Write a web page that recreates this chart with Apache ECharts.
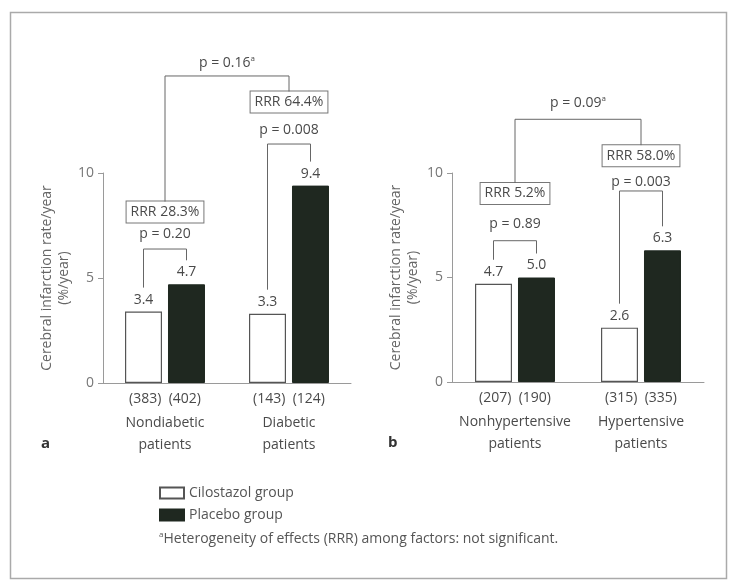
<!DOCTYPE html>
<html>
<head>
<meta charset="utf-8">
<script src="https://cdn.jsdelivr.net/npm/echarts@6/dist/echarts.min.js"></script>
<style>
  html, body { margin: 0; padding: 0; background: #fff; }
  #chart { width: 732px; height: 581px; }
</style>
</head>
<body>
<div id="chart"></div>
<script>
// ---- Data ----
const categoriesA = ['Nondiabetic', 'Diabetic'];
const categoriesB = ['Nonhypertensive', 'Hypertensive'];
const cilostazolA = [3.4, 3.3];
const placeboA = [4.7, 9.4];
const cilostazolB = [4.7, 2.6];
const placeboB = [5.0, 6.3];
const nCilostazolA = [383, 143];
const nPlaceboA = [402, 124];
const nCilostazolB = [207, 315];
const nPlaceboB = [190, 335];
const rrrA = ['RRR 28.3%', 'RRR 64.4%'];
const rrrB = ['RRR 5.2%', 'RRR 58.0%'];
const pWithinA = ['p = 0.20', 'p = 0.008'];
const pWithinB = ['p = 0.89', 'p = 0.003'];
const pBetweenA = 'p = 0.16';
const pBetweenB = 'p = 0.09';
const yTicks = [0, 5, 10];
const seriesNames = ['Cilostazol group', 'Placebo group'];
const footnote = 'Heterogeneity of effects (RRR) among factors: not significant.';

// ---- Styling / layout ----
const FONT = '"Open Sans", "Noto Sans", sans-serif';
const TEXT = '#4a4a4a';
const AXIS = '#9a9a9a';
const DARK = '#1f2820';
const BAR_W = 37;
const BAR_GAP_PX = 6;

// Annotation heights, in axis units
const levelsA = { bracket: [6.38, 11.38], p: [7.10, 12.05], box: [8.14, 13.38], top: 14.62, topText: 15.24 };
const levelsB = { bracket: [6.76, 9.14], p: [7.57, 9.57], box: [9.02, 10.83], top: 12.57, topText: 13.33 };

const chart = echarts.init(document.getElementById('chart'), null, { renderer: 'canvas' });

function categoryLabels(cats, nC, nP) {
  return cats.map((c, i) => `{n|(${nC[i]})  (${nP[i]})}\n{c|${c}}\n{c|patients}`);
}

function yAxis(gridIndex) {
  return {
    type: 'value', gridIndex, min: yTicks[0], max: yTicks[yTicks.length - 1], interval: 5,
    name: 'Cerebral infarction rate/year\n(%/year)',
    nameLocation: 'middle', nameGap: 30,
    nameTextStyle: { fontFamily: FONT, fontSize: 14, color: '#666', lineHeight: 17 },
    axisLine: { show: true, lineStyle: { color: AXIS, width: 1 } },
    axisTick: { show: true, length: 5, lineStyle: { color: AXIS } },
    axisLabel: { fontFamily: FONT, fontSize: 14, color: '#777', margin: 9 },
    splitLine: { show: false }
  };
}

function xAxis(gridIndex, labels) {
  return {
    type: 'category', gridIndex, data: labels,
    axisLine: { lineStyle: { color: AXIS, width: 1 } },
    axisTick: { show: false },
    axisLabel: {
      margin: 3, interval: 0, color: TEXT, fontFamily: FONT,
      rich: {
        n: { fontFamily: FONT, fontSize: 14, color: TEXT, lineHeight: 26 },
        c: { fontFamily: FONT, fontSize: 14, color: TEXT, lineHeight: 22 }
      }
    }
  };
}

function barSeries(name, idx, data, filled) {
  return {
    name, type: 'bar', xAxisIndex: idx, yAxisIndex: idx, data,
    barWidth: BAR_W, barGap: (BAR_GAP_PX / BAR_W * 100).toFixed(1) + '%',
    itemStyle: filled
      ? { color: DARK, borderColor: DARK, borderWidth: 1 }
      : { color: '#ffffff', borderColor: '#555', borderWidth: 1.2 },
    label: {
      show: true, position: 'top', distance: 5,
      fontFamily: FONT, fontSize: 14, color: TEXT,
      formatter: p => p.value.toFixed(1)
    },
    emphasis: { disabled: true }
  };
}

function annotationSeries(idx, cil, pla, rrr, pWithin, pBetween, lv) {
  return {
    type: 'custom', xAxisIndex: idx, yAxisIndex: idx, silent: true, z: 5, clip: false,
    data: [0],
    renderItem(params, api) {
      const children = [];
      const half = (BAR_W + BAR_GAP_PX) / 2;
      const line = { stroke: '#666', lineWidth: 1, fill: null };
      const boxTops = [];
      const centers = [];
      for (let i = 0; i < cil.length; i++) {
        const cb = api.coord([i, lv.bracket[i]]);
        const xl = cb[0] - half, xr = cb[0] + half;
        const footL = api.coord([i, cil[i]])[1] - 24;
        const footR = api.coord([i, pla[i]])[1] - 24;
        children.push({
          type: 'polyline',
          shape: { points: [[xl, footL], [xl, cb[1]], [xr, cb[1]], [xr, footR]] },
          style: line
        });
        const cp = api.coord([i, lv.p[i]]);
        children.push({
          type: 'text', x: cp[0], y: cp[1],
          style: { text: pWithin[i], fontFamily: FONT, fontSize: 14, fill: TEXT, align: 'center', verticalAlign: 'middle' }
        });
        const cbx = api.coord([i, lv.box[i]]);
        children.push({
          type: 'text', x: cbx[0], y: cbx[1],
          style: {
            text: rrr[i], fontFamily: FONT, fontSize: 14, fill: TEXT, lineHeight: 17,
            align: 'center', verticalAlign: 'middle',
            padding: [2, 4, 2, 4], borderColor: '#777', borderWidth: 1, backgroundColor: '#fff'
          }
        });
        boxTops.push(cbx[1] - 10.5);
        centers.push(cbx[0]);
      }
      const yt = api.coord([0, lv.top])[1];
      children.push({
        type: 'polyline',
        shape: { points: [[centers[0], boxTops[0]], [centers[0], yt], [centers[1], yt], [centers[1], boxTops[1]]] },
        style: line
      });
      const ytt = api.coord([0, lv.topText])[1];
      children.push({
        type: 'text', x: (centers[0] + centers[1]) / 2, y: ytt,
        style: {
          text: `{t|${pBetween}}{s|a}`, align: 'center', verticalAlign: 'middle',
          rich: {
            t: { fontFamily: FONT, fontSize: 14, fill: TEXT, lineHeight: 17 },
            s: { fontFamily: FONT, fontSize: 8, fill: TEXT, verticalAlign: 'top', lineHeight: 17 }
          }
        }
      });
      return { type: 'group', children };
    }
  };
}

const option = {
  backgroundColor: '#ffffff',
  animation: false,
  textStyle: { fontFamily: FONT },
  grid: [
    { left: 103, top: 173, width: 248, height: 210 },
    { left: 452, top: 173, width: 252, height: 209 }
  ],
  xAxis: [
    xAxis(0, categoryLabels(categoriesA, nCilostazolA, nPlaceboA)),
    xAxis(1, categoryLabels(categoriesB, nCilostazolB, nPlaceboB))
  ],
  yAxis: [yAxis(0), yAxis(1)],
  legend: {
    data: seriesNames, orient: 'vertical', left: 159, top: 486, padding: 0,
    itemWidth: 24, itemHeight: 11, itemGap: 8, icon: 'rect',
    selectedMode: false,
    textStyle: { fontFamily: FONT, fontSize: 14, color: '#555' }
  },
  series: [
    barSeries(seriesNames[0], 0, cilostazolA, false),
    barSeries(seriesNames[1], 0, placeboA, true),
    barSeries(seriesNames[0], 1, cilostazolB, false),
    barSeries(seriesNames[1], 1, placeboB, true),
    annotationSeries(0, cilostazolA, placeboA, rrrA, pWithinA, pBetweenA, levelsA),
    annotationSeries(1, cilostazolB, placeboB, rrrB, pWithinB, pBetweenB, levelsB)
  ],
  graphic: [
    {
      type: 'rect', silent: true, z: -1,
      shape: { x: 10.5, y: 12.5, width: 716, height: 566 },
      style: { fill: null, stroke: '#aaa', lineWidth: 1.5 }
    },
    {
      type: 'text', left: 41, top: 436,
      style: { text: 'a', fontFamily: FONT, fontSize: 15, fontWeight: 'bold', fill: '#333' }
    },
    {
      type: 'text', left: 388, top: 435,
      style: { text: 'b', fontFamily: FONT, fontSize: 15, fontWeight: 'bold', fill: '#333' }
    },
    {
      type: 'text', left: 159, top: 531,
      style: {
        text: `{s|a}{t|${footnote}}`,
        rich: {
          t: { fontFamily: FONT, fontSize: 14, fill: '#555', lineHeight: 17 },
          s: { fontFamily: FONT, fontSize: 8, fill: '#555', verticalAlign: 'top', lineHeight: 17 }
        }
      }
    }
  ]
};

chart.setOption(option);
</script>
</body>
</html>
